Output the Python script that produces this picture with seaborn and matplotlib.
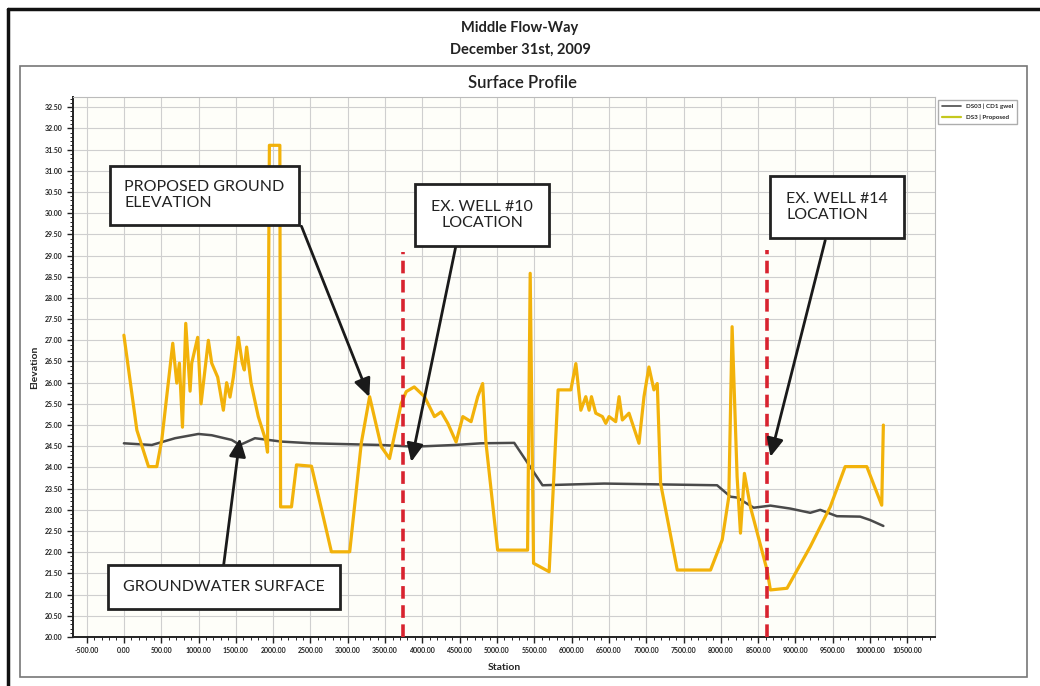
import numpy as np
import pandas as pd
import matplotlib
matplotlib.use("Agg")
import matplotlib.pyplot as plt
import seaborn as sns
from matplotlib.lines import Line2D
from matplotlib.patches import Rectangle

sns.set_style("white")
plt.rcParams['font.family'] = ['Lato', 'DejaVu Sans']

# proposed ground elevation along the flow-way
proposed_station = [0, 174, 330, 441, 508, 655, 709, 744, 785, 829, 887, 909, 989, 1034,
                    1132, 1177, 1257, 1333, 1377, 1422, 1467, 1534, 1587, 1614, 1645, 1703,
                    1801, 1899, 1925, 1950, 2090, 2100, 2246, 2313, 2514, 2781, 3026, 3182,
                    3293, 3449, 3560, 3717, 3784, 3891, 4029, 4162, 4252, 4341, 4452, 4542,
                    4653, 4742, 4808, 4853, 5009, 5410, 5445, 5490, 5699, 5819, 5990, 6057,
                    6124, 6190, 6235, 6266, 6324, 6413, 6458, 6502, 6591, 6636, 6680, 6769,
                    6903, 6970, 7036, 7103, 7148, 7193, 7416, 7862, 8018, 8107, 8151, 8218,
                    8263, 8316, 8396, 8619, 8664, 8887, 9198, 9466, 9666, 9956, 10156, 10178]
proposed_elev = [27.12, 24.88, 24.02, 24.02, 24.65, 26.93, 25.99, 26.46, 24.95, 27.4, 25.8,
                 26.46, 27.07, 25.5, 27.0, 26.46, 26.13, 25.35, 26.0, 25.66, 26.13, 27.07,
                 26.46, 26.3, 26.84, 26.0, 25.2, 24.65, 24.36, 31.6, 31.6, 23.07, 23.07,
                 24.06, 24.03, 22.01, 22.01, 24.58, 25.67, 24.49, 24.21, 25.51, 25.79, 25.9,
                 25.67, 25.2, 25.31, 25.04, 24.6, 25.2, 25.08, 25.67, 25.98, 24.57, 22.05,
                 22.05, 28.58, 21.74, 21.54, 25.83, 25.83, 26.45, 25.35, 25.67, 25.35, 25.67,
                 25.28, 25.2, 25.04, 25.2, 25.08, 25.67, 25.12, 25.28, 24.57, 25.67, 26.37,
                 25.83, 25.98, 23.62, 21.58, 21.58, 22.29, 23.31, 27.32, 23.78, 22.45, 23.86,
                 23.07, 21.58, 21.11, 21.15, 22.13, 23.07, 24.02, 24.02, 23.11, 25.0]

# groundwater surface
gw_station = [0, 374, 686, 998, 1177, 1444, 1556, 1756, 2113, 2514, 3449, 3894, 4430, 4787,
              5231, 5610, 6435, 7950, 8129, 8218, 8440, 8664, 8931, 9198, 9332, 9555, 9867,
              10000, 10178]
gw_elev = [24.57, 24.53, 24.69, 24.79, 24.76, 24.65, 24.53, 24.69, 24.61, 24.57, 24.53, 24.49,
           24.53, 24.57, 24.58, 23.58, 23.62, 23.58, 23.31, 23.29, 23.05, 23.1, 23.03, 22.93,
           23.0, 22.85, 22.84, 22.76, 22.62]

# existing wells
well_station = [3740, 8620]
well_top = [29.08, 29.12]

series_labels = ['DS03 | CD1 gwel', 'DS3 | Proposed']

fig = plt.figure(figsize=(10.4, 6.86), dpi=100)
W, H = 1040, 686
ax = fig.add_axes([73 / W, 1 - 637 / H, (935 - 73) / W, (637 - 97) / H])
ax.set_facecolor('#fefef9')

gw = pd.DataFrame({'Station': gw_station, 'Elevation': gw_elev})
prop = pd.DataFrame({'Station': proposed_station, 'Elevation': proposed_elev})
sns.lineplot(data=gw, x='Station', y='Elevation', color='#4a4a4a', lw=1.8,
             estimator=None, sort=False, ax=ax, zorder=3)
sns.lineplot(data=prop, x='Station', y='Elevation', color='#f2b20a', lw=2.3,
             estimator=None, sort=False, ax=ax, zorder=4)

ax.vlines(well_station, 20, well_top, colors='#d8232f', linestyles=(0, (3.5, 1.8)),
          lw=2.6, zorder=5)

ax.set_xlim(-682, 10870)
ax.set_ylim(20, 32.74)
ax.set_xticks(np.arange(-500, 10501, 500))
ax.set_xticks(np.arange(-500, 10801, 100), minor=True)
ax.set_yticks(np.arange(20, 32.51, 0.5))
ax.set_yticks(np.arange(20, 32.7, 0.1), minor=True)
ax.xaxis.set_major_formatter(matplotlib.ticker.FormatStrFormatter('%.2f'))
ax.yaxis.set_major_formatter(matplotlib.ticker.FormatStrFormatter('%.2f'))
ax.tick_params(axis='both', which='major', labelsize=5, length=4, width=1, direction='out',
               bottom=True, left=True, colors='#222222')
ax.tick_params(axis='both', which='minor', length=2, width=0.7, bottom=True, left=True)
for lab in ax.get_xticklabels() + ax.get_yticklabels():
    lab.set_fontweight('bold')
ax.grid(True, which='major', color='#cfcfcf', lw=0.8)
for s in ['top', 'right']:
    ax.spines[s].set_color('#bbbbbb')
for s in ['left', 'bottom']:
    ax.spines[s].set_color('#222222')
    ax.spines[s].set_linewidth(1.4)

ax.set_xlabel('Station', fontsize=7.5, fontweight='bold', labelpad=6)
ax.set_ylabel('Elevation', fontsize=7.5, fontweight='bold', labelpad=4)

# callouts
ax.text(1080, 30.42, 'PROPOSED GROUND\nELEVATION', ha='center', va='center',
        multialignment='left', fontsize=11.5, color='#222222', zorder=7,
        bbox=dict(boxstyle='square,pad=0.9', fc='white', ec='#222222', lw=2))
ax.text(4800, 29.95, 'EX. WELL #10\nLOCATION', ha='center', va='center',
        multialignment='center', fontsize=11.5, color='#222222', zorder=7,
        bbox=dict(boxstyle='square,pad=1.0', fc='white', ec='#222222', lw=2))
ax.text(9560, 30.14, 'EX. WELL #14\nLOCATION', ha='center', va='center',
        multialignment='left', fontsize=11.5, color='#222222', zorder=7,
        bbox=dict(boxstyle='square,pad=1.0', fc='white', ec='#222222', lw=2))
ax.text(1337, 21.18, 'GROUNDWATER SURFACE', ha='center', va='center',
        fontsize=11.5, color='#222222', zorder=7,
        bbox=dict(boxstyle='square,pad=0.95', fc='white', ec='#222222', lw=2))

arrow = dict(arrowstyle='-|>,head_length=1.1,head_width=0.5', color='#1a1a1a', lw=2,
             shrinkA=0, shrinkB=0)
ax.annotate('', xy=(3289, 25.66), xytext=(2380, 29.69), arrowprops=arrow, zorder=6)
ax.annotate('', xy=(3851, 24.13), xytext=(4452, 29.25), arrowprops=arrow, zorder=6)
ax.annotate('', xy=(8664, 24.25), xytext=(9399, 29.36), arrowprops=arrow, zorder=6)
ax.annotate('', xy=(1555, 24.69), xytext=(1337, 21.7), arrowprops=arrow, zorder=6)

# legend outside the plot
handles = [Line2D([], [], color='#4a4a4a', lw=1.2), Line2D([], [], color='#c4c81e', lw=1.6)]
fig.legend(handles, series_labels, loc='upper left', bbox_to_anchor=(935 / W, 1 - 97 / H),
           frameon=True, edgecolor='#999999', fancybox=False,
           handlelength=3, borderpad=0.6, labelspacing=0.8, prop={'weight': 'bold', 'size': 4.5})

# titles
fig.text(520 / W, 1 - 28 / H, 'Middle Flow-Way', ha='center', va='center',
         fontsize=10.5, fontweight='bold', color='#222222')
fig.text(520 / W, 1 - 50 / H, 'December 31st, 2009', ha='center', va='center',
         fontsize=10.5, fontweight='bold', color='#222222')
fig.text(522 / W, 1 - 83 / H, 'Surface Profile', ha='center', va='center',
         fontsize=12, fontweight='semibold', color='#222222')

# page frames of the scanned report
fig.add_artist(Rectangle((20 / W, 1 - 677 / H), (1027 - 20) / W, (677 - 66) / H,
                         transform=fig.transFigure, fill=False, ec='#777777', lw=1.2))
fig.add_artist(Line2D([8 / W, 1], [1 - 9 / H, 1 - 9 / H], transform=fig.transFigure,
                      color='#111111', lw=2.5))
fig.add_artist(Line2D([8 / W, 8 / W], [0, 1 - 9 / H], transform=fig.transFigure,
                      color='#111111', lw=2.5))

fig.savefig('out.png', dpi=100, facecolor='white')
